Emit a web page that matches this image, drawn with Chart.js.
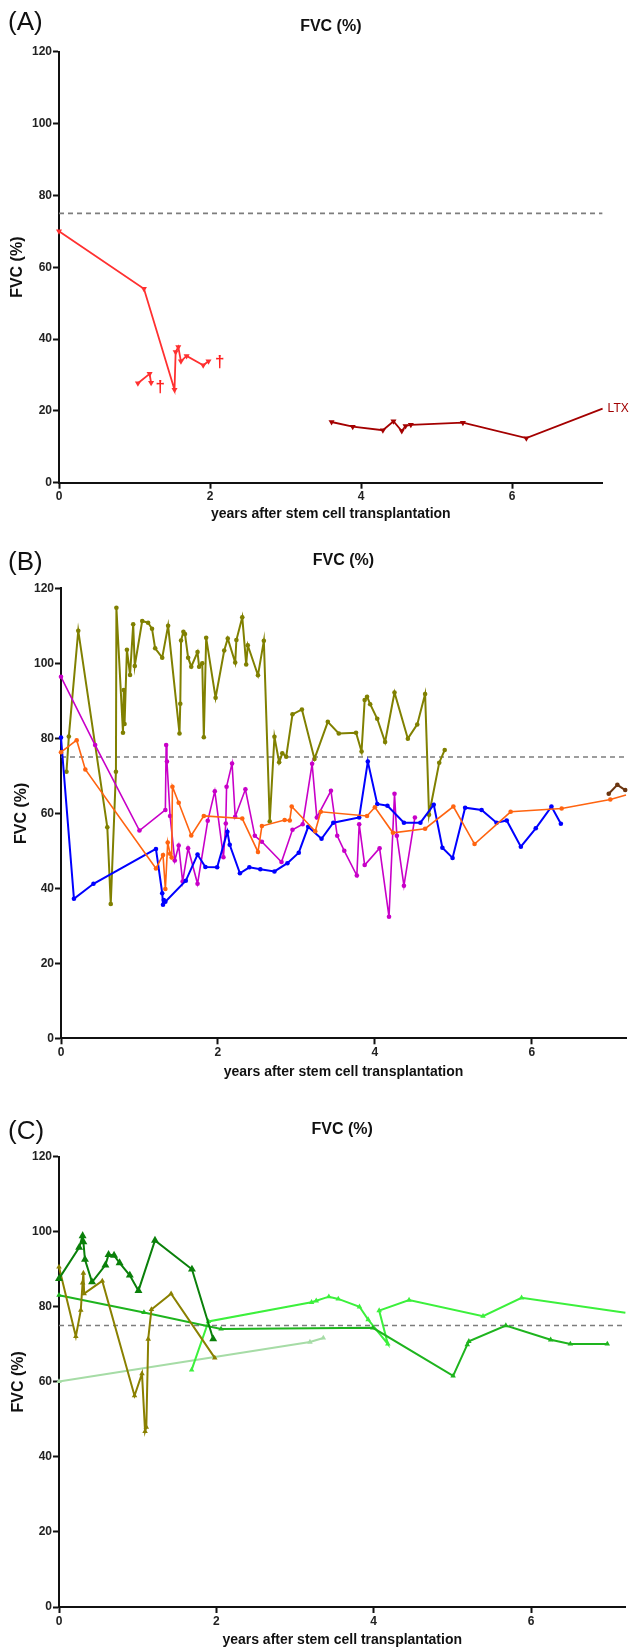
<!DOCTYPE html>
<html>
<head>
<meta charset="utf-8">
<title>FVC (%) after stem cell transplantation</title>
<script src="https://cdn.jsdelivr.net/npm/chart.js@4.4.0/dist/chart.umd.min.js"></script>
<style>
  body { margin: 0; background: #fff; }
  #page { position: relative; width: 630px; height: 1649px; overflow: hidden; }
  canvas { position: absolute; left: 0; }
  .tag { position: absolute; left: 8px; font: 26px "Liberation Sans", Arial, sans-serif; line-height: 26px; color: #111; }
</style>
</head>
<body>
<div id="page">
  <canvas id="chartA" width="630" height="540" style="top:0px"></canvas>
  <canvas id="chartB" width="630" height="548" style="top:540px"></canvas>
  <canvas id="chartC" width="630" height="561" style="top:1088px"></canvas>
  <div class="tag" style="top:8px">(A)</div>
  <div class="tag" style="top:548px">(B)</div>
  <div class="tag" style="top:1117px">(C)</div>
</div>
<script>
// ---- data (years after SCT, FVC %) ----
const yTicks = [0, 20, 40, 60, 80, 100, 120];
const xTicks = [0, 2, 4, 6];
const threshold = 75;

// panel A
const aRed1X = [0, 1.125, 1.53, 1.545, 1.58, 1.615, 1.69, 1.91, 1.98];
const aRed1Y = [70, 54, 25.9, 36.4, 37.8, 33.8, 35.3, 32.7, 33.8];
const aRed2X = [1.045, 1.2, 1.22];
const aRed2Y = [27.7, 30.3, 27.8];
const aDarkX = [3.61, 3.89, 4.29, 4.43, 4.54, 4.59, 4.66, 5.35, 6.19, 7.2];
const aDarkY = [16.9, 15.6, 14.6, 17.1, 14.4, 15.8, 16.1, 16.7, 12.4, 20.6];
const deathX = [1.34, 2.13];
const deathY = [26.5, 33.6];
const ltxLabel = 'LTX';

// panel B
const bOliveX = [0.07, 0.10, 0.22, 0.59, 0.634, 0.70, 0.706, 0.79, 0.80, 0.81, 0.84, 0.88, 0.92, 0.94, 1.035, 1.11, 1.16, 1.20, 1.29, 1.365, 1.51, 1.52, 1.53, 1.56, 1.58, 1.62, 1.66, 1.74, 1.76, 1.80, 1.82, 1.85, 1.97, 2.08, 2.125, 2.22, 2.235, 2.31, 2.36, 2.38, 2.51, 2.585, 2.66, 2.72, 2.78, 2.82, 2.87, 2.95, 3.07, 3.23, 3.40, 3.54, 3.76, 3.83, 3.87, 3.90, 3.94, 4.03, 4.13, 4.25, 4.42, 4.54, 4.64, 4.69, 4.82, 4.89];
const bOliveY = [71.1, 80.5, 108.7, 56.3, 35.8, 71.1, 114.8, 81.5, 92.9, 83.8, 103.6, 96.9, 110.4, 99.3, 111.3, 110.8, 109.2, 104, 101.5, 110, 81.3, 89.2, 106.1, 108.4, 107.8, 101.5, 99.1, 103, 99.1, 100, 80.3, 106.8, 90.8, 103.4, 106.6, 100.2, 106.2, 112.3, 99.7, 104.8, 96.8, 106, 57.8, 80.4, 73.6, 76, 75.1, 86.4, 87.7, 74.5, 84.4, 81.3, 81.5, 76.5, 90.2, 91.1, 89.1, 85.2, 79, 92.2, 79.9, 83.7, 91.8, 59.6, 73.5, 76.9];
const bBlueX = [0, 0.165, 0.414, 1.21, 1.29, 1.30, 1.31, 1.33, 1.59, 1.74, 1.84, 1.99, 2.12, 2.15, 2.28, 2.40, 2.54, 2.72, 2.885, 3.03, 3.15, 3.32, 3.47, 3.80, 3.91, 4.03, 4.16, 4.37, 4.58, 4.75, 4.86, 4.99, 5.15, 5.36, 5.55, 5.68, 5.86, 6.05, 6.25, 6.37];
const bBlueY = [80.2, 37.2, 41.2, 50.5, 38.7, 35.6, 36.9, 36.4, 42, 49, 45.7, 45.6, 55.1, 51.6, 44, 45.6, 45.1, 44.5, 46.7, 49.5, 56.4, 53.2, 57.5, 58.9, 73.8, 62.5, 62, 57.5, 57.5, 62.3, 50.8, 48.1, 61.5, 60.9, 57.5, 58.1, 51.1, 56, 61.8, 57.2];
const bOrangeX = [0, 0.2, 0.31, 1.21, 1.30, 1.33, 1.36, 1.39, 1.41, 1.42, 1.50, 1.66, 1.82, 2.31, 2.51, 2.56, 2.85, 2.915, 2.94, 3.24, 3.31, 3.90, 4.0, 4.23, 4.64, 5.0, 5.27, 5.73, 6.38, 7.0, 7.2];
const bOrangeY = [76.3, 79.5, 71.7, 45.3, 48.9, 39.8, 52.2, 49.2, 48.2, 67.1, 62.8, 54.1, 59.3, 58.6, 49.7, 56.6, 58.2, 58.1, 61.8, 55.2, 60.4, 59.3, 61.6, 54.8, 55.9, 61.8, 51.8, 60.4, 61.3, 63.7, 64.9];
const bMagentaX = [0, 0.435, 1.0, 1.33, 1.34, 1.35, 1.39, 1.45, 1.50, 1.55, 1.62, 1.74, 1.87, 1.96, 2.07, 2.10, 2.11, 2.18, 2.22, 2.35, 2.47, 2.56, 2.81, 2.95, 3.08, 3.20, 3.26, 3.44, 3.52, 3.61, 3.77, 3.80, 3.87, 4.06, 4.18, 4.25, 4.28, 4.37, 4.51];
const bMagentaY = [96.4, 78.2, 55.4, 60.9, 78.2, 73.8, 59.3, 47.4, 51.4, 41.8, 50.7, 41.2, 58, 65.9, 48.3, 57.3, 67.1, 73.3, 59.1, 66.4, 54, 52.4, 47, 55.6, 57.1, 73.2, 58.9, 66, 54, 50, 43.4, 57.1, 46.2, 50.7, 32.4, 65.2, 54, 40.7, 58.9];
const bBrownX = [6.98, 7.09, 7.19];
const bBrownY = [65.2, 67.6, 66.2];

// panel C
const cDarkX = [0, 0.256, 0.30, 0.31, 0.33, 0.42, 0.59, 0.63, 0.70, 0.77, 0.90, 1.01, 1.22, 1.69, 1.96];
const cDarkY = [87.5, 95.8, 98.9, 97.3, 92.6, 86.6, 91.1, 93.9, 93.7, 91.7, 88.4, 84.3, 97.7, 90, 71.4];
const cMidX = [0, 1.08, 2.06, 3.99, 5.01, 5.19, 5.21, 5.68, 6.25, 6.50, 6.97];
const cMidY = [83.1, 78.5, 74.1, 74.4, 61.6, 69.9, 70.8, 75, 71.2, 70.1, 70.1];
const cLimeX = [1.686, 1.90, 3.21, 3.27, 3.43, 3.55, 3.82, 3.93, 4.18, 4.07, 4.45, 5.39, 5.88, 7.2];
const cLimeY = [63.2, 76.1, 81.2, 81.6, 82.7, 82.1, 80, 76.6, 70.1, 79, 81.8, 77.5, 82.4, 78.4];
const cOliveX = [0, 0.214, 0.277, 0.30, 0.31, 0.32, 0.55, 0.96, 1.055, 1.094, 1.11, 1.134, 1.175, 1.425, 1.98];
const cOliveY = [90.6, 72.1, 79.1, 86.4, 89, 83.5, 86.9, 56.3, 62.2, 46.8, 47.9, 71.4, 79.3, 83.5, 66.4];
const cPaleX = [0, 3.19, 3.36];
const cPaleY = [60.1, 70.6, 71.7];

// ---- helpers ----
const FONT = '"Liberation Sans", Arial, Helvetica, sans-serif';
Chart.defaults.font.family = FONT;

function pts(xs, ys) {
    return xs.map((x, i) => ({ x: x, y: ys[i] }));
}

function series(xs, ys, color, extra) {
    return Object.assign({
        data: pts(xs, ys),
        showLine: true,
        borderColor: color,
        backgroundColor: color,
        pointBackgroundColor: color,
        pointBorderColor: color,
        pointBorderWidth: 0,
        borderWidth: 2,
        pointRadius: 2.3,
        clip: false
    }, extra || {});
}

function refLine() {
    return {
        data: pts([0, 7.2], [threshold, threshold]),
        showLine: true,
        borderColor: "#7d7d7d",
        borderDash: [5, 4],
        borderWidth: 1.6,
        pointRadius: 0
    };
}

// no marker on a point that sits on the right axis edge
function edgeRadius(r) {
    return ctx => (ctx.raw && ctx.raw.x >= 7.2 ? 0 : r);
}

function makePanel(id, p) {
    const tickFont = { size: 12, weight: "bold" };
    new Chart(document.getElementById(id), {
        type: "scatter",
        data: { datasets: p.datasets.concat([refLine()]) },
        options: {
            responsive: false,
            animation: false,
            events: [],
            layout: { padding: { left: 0, right: p.padRight, top: 0, bottom: 0 } },
            plugins: {
                legend: { display: false },
                tooltip: { enabled: false },
                title: { display: false }
            },
            scales: {
                x: {
                    type: "linear", min: 0, max: 7.2,
                    afterBuildTicks: s => { s.ticks = xTicks.map(v => ({ value: v })); },
                    ticks: { color: "#222", font: tickFont, padding: 1, maxRotation: 0 },
                    grid: { drawOnChartArea: false, tickLength: 6, tickWidth: 2, tickColor: "#111" },
                    border: { color: "#111", width: 2 },
                    title: { display: true, text: "years after stem cell transplantation", color: "#111",
                             font: { size: 14, weight: "bold" }, padding: { top: 0, bottom: p.xTitlePad } },
                    afterFit: s => { s.height = p.xHeight; }
                },
                top: {
                    type: "linear", axis: "x", position: "top", min: 0, max: 7.2,
                    ticks: { display: false },
                    grid: { display: false },
                    border: { display: false },
                    title: { display: true, text: "FVC (%)", color: "#111",
                             font: { size: 16, weight: "bold" }, padding: { top: p.titlePad, bottom: 0 } },
                    afterFit: s => { s.height = p.topHeight; }
                },
                y: {
                    min: 0, max: 120,
                    afterBuildTicks: s => { s.ticks = yTicks.map(v => ({ value: v })); },
                    ticks: { color: "#222", font: tickFont, padding: 1 },
                    grid: { drawOnChartArea: false, tickLength: 6, tickWidth: 2, tickColor: "#111" },
                    border: { color: "#111", width: 2 },
                    title: { display: true, text: "FVC (%)", color: "#111",
                             font: { size: 16, weight: "bold" }, padding: { top: p.yTitlePad, bottom: 0 } },
                    afterFit: s => { s.width = p.yWidth; }
                }
            }
        },
        plugins: p.plugins || []
    });
}

// crosses for deaths and the LTX note in panel A
const panelANotes = {
    id: "panelANotes",
    afterDatasetsDraw(chart) {
        const { ctx, scales: { x, y } } = chart;
        ctx.save();
        ctx.fillStyle = "#ff2020";
        ctx.font = "bold 17px " + FONT;
        ctx.textAlign = "center";
        ctx.textBaseline = "middle";
        deathX.forEach((v, i) => {
            ctx.fillText("\u2020", x.getPixelForValue(v), y.getPixelForValue(deathY[i]));
        });
        const last = aDarkX.length - 1;
        ctx.fillStyle = "#a00000";
        ctx.font = "12px " + FONT;
        ctx.textAlign = "left";
        ctx.fillText(ltxLabel, x.getPixelForValue(aDarkX[last]) + 5, y.getPixelForValue(aDarkY[last]));
        ctx.restore();
    }
};

const downTri = { pointStyle: "triangle", pointRotation: 180, pointRadius: 3.5, borderWidth: 1.8 };
const upTri = { pointStyle: "triangle", pointRadius: 3.2, borderWidth: 2 };

makePanel("chartA", {
    yWidth: 59, xHeight: 57.3, topHeight: 51.7, titlePad: 17.4, xTitlePad: 17.6, yTitlePad: 8.4, padRight: 27.4,
    datasets: [
        series(aRed1X, aRed1Y, "#ff3030", downTri),
        series(aRed2X, aRed2Y, "#ff3030", downTri),
        series(aDarkX, aDarkY, "#a40000", Object.assign({}, downTri, { pointRadius: edgeRadius(3.5) }))
    ],
    plugins: [panelANotes]
});

makePanel("chartB", {
    yWidth: 61, xHeight: 49.7, topHeight: 48.3, titlePad: 11.4, xTitlePad: 7.6, yTitlePad: 12, padRight: 0,
    datasets: [
        series(bOrangeX, bOrangeY, "#ff6410", { borderWidth: 1.6, pointRadius: edgeRadius(2.3) }),
        series(bBlueX, bBlueY, "#0000ff"),
        series(bMagentaX, bMagentaY, "#c800c8", { borderWidth: 1.6 }),
        series(bOliveX, bOliveY, "#808000"),
        series(bBrownX, bBrownY, "#6b3510")
    ]
});

makePanel("chartC", {
    yWidth: 59, xHeight: 42, topHeight: 68.7, titlePad: 32.4, xTitlePad: 0, yTitlePad: 9.4, padRight: 1.2,
    datasets: [
        series(cDarkX, cDarkY, "#0a800a", Object.assign({}, upTri, { pointRadius: 4.6 })),
        series(cOliveX, cOliveY, "#8a8000", upTri),
        series(cMidX, cMidY, "#1eb41e", upTri),
        series(cLimeX, cLimeY, "#3cf03c", Object.assign({}, upTri, { pointRadius: edgeRadius(3.2) })),
        series(cPaleX, cPaleY, "#a6dca6", upTri)
    ]
});
</script>
</body>
</html>
